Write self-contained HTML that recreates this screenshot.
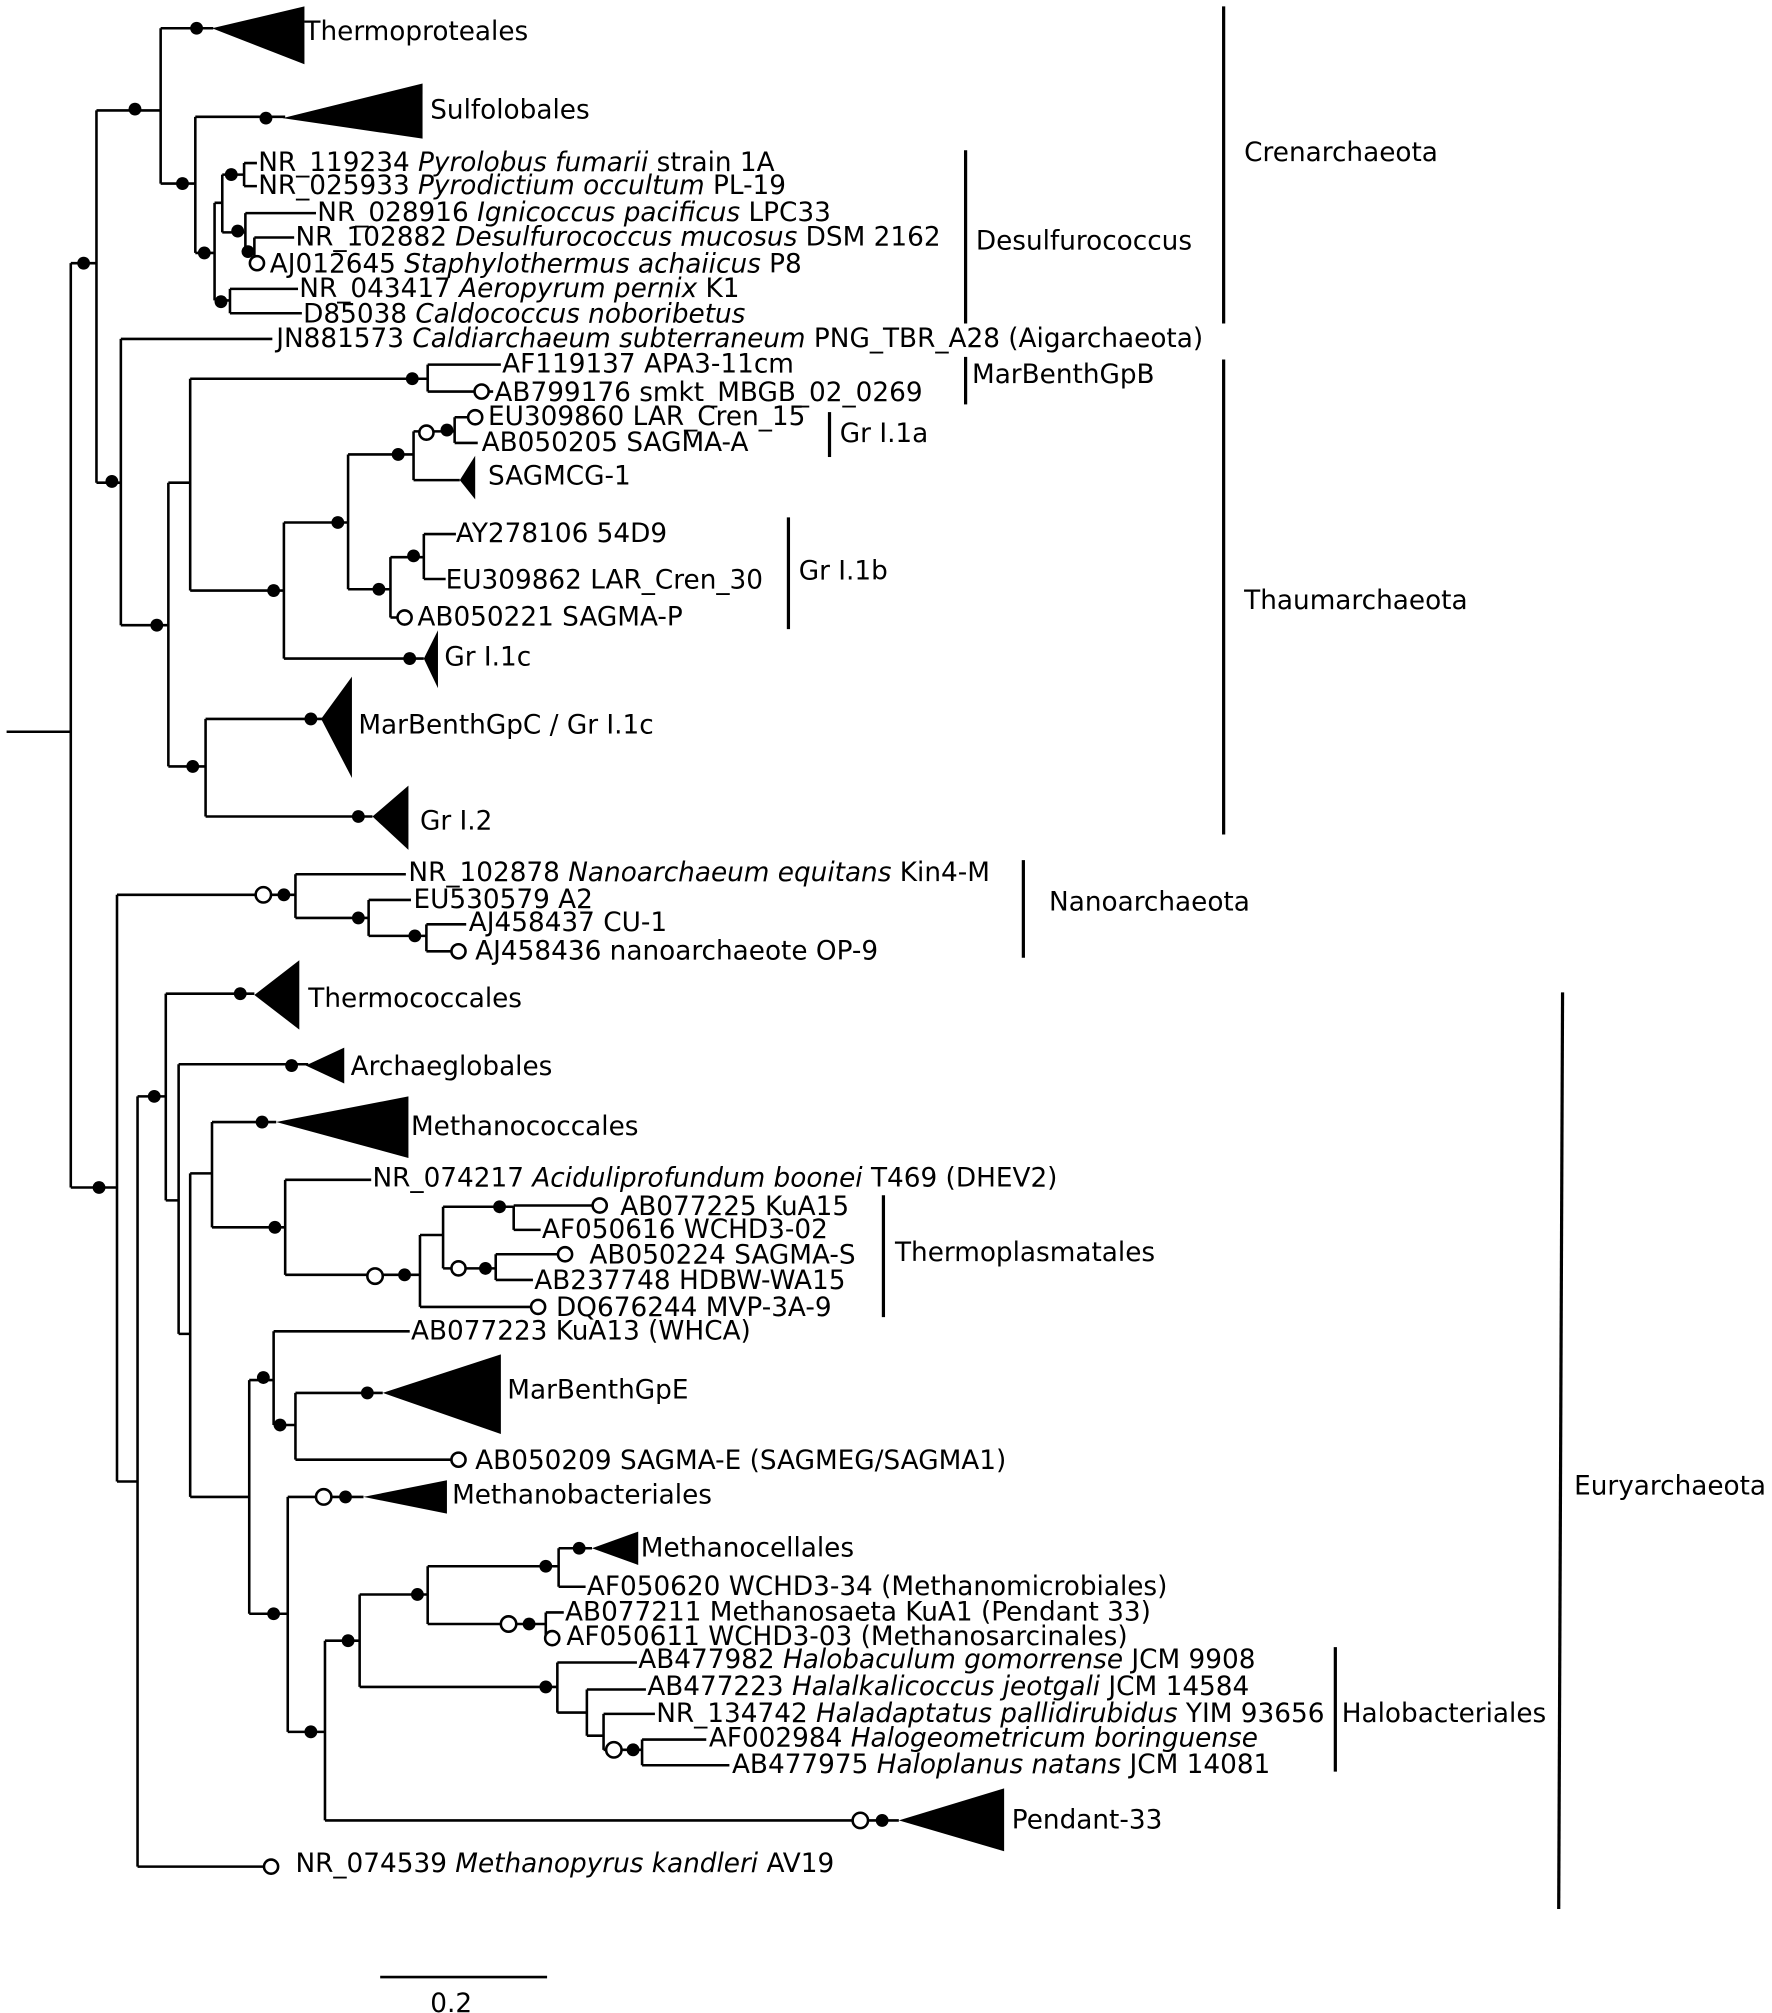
<!DOCTYPE html>
<html><head><meta charset="utf-8"><style>
html,body{margin:0;padding:0;background:#fff;}
svg{display:block;}
text{font-family:"DejaVu Sans","Liberation Sans",sans-serif;font-size:20.5px;fill:#000;dominant-baseline:central;}
.i{font-style:italic;}
</style></head><body>
<svg width="1772" height="2013" viewBox="0 0 1380 1568" xmlns="http://www.w3.org/2000/svg">
<g stroke="#000" stroke-width="2" fill="none">
<path d="M5 570H55M55 205V925"/>
<path d="M55 205H75M75 86V376"/>
<path d="M75 86H125M125 22V143"/>
<path d="M125 22H166"/>
<path d="M125 143H152M152 91V197"/>
<path d="M152 91H222"/>
<path d="M152 197H167M167 158V234"/>
<path d="M167 158H173M173 136V181"/>
<path d="M173 136H190M190 127V145M190 127H200M190 145H200"/>
<path d="M173 181H191M191 166V196M191 166H246M191 196H198M198 185V205M198 185H229M198 205H200"/>
<path d="M167 234H179M179 225V244M179 225H232M179 244H235"/>
<path d="M75 376H94M94 264V487M94 264H212"/>
<path d="M94 487H131M131 376V597"/>
<path d="M131 376H148M148 295V460"/>
<path d="M148 295H333M333 284V305M333 284H390M333 305H384"/>
<path d="M148 460H221M221 407V513"/>
<path d="M221 407H271M271 354V459"/>
<path d="M271 354H322M322 336V374"/>
<path d="M322 336H354M354 325V345M354 325H368M354 345H372"/>
<path d="M322 374H358"/>
<path d="M271 459H304M304 434V481"/>
<path d="M304 434H330M330 416V451M330 416H355M330 451H347"/>
<path d="M304 481H310"/>
<path d="M221 513H330"/>
<path d="M131 597H160M160 560V636M160 560H252M160 636H290"/>
<path d="M55 925H91M91 697V1154"/>
<path d="M91 697H199M211 697H230M230 681V715M230 681H316M230 715H287M287 701V729M287 701H320M287 729H332M332 720V741M332 720H363M332 741H351"/>
<path d="M91 1154H107M107 854V1454M107 1454H205"/>
<path d="M107 854H129M129 774V935M129 774H198"/>
<path d="M129 935H139M139 829V1039M139 829H240"/>
<path d="M139 1039H148M148 914V1166"/>
<path d="M148 914H165M165 874V956M165 874H215"/>
<path d="M165 956H222M222 919V993M222 919H289"/>
<path d="M222 993H286M298 993H327M327 962V1018M327 962H345M345 940V988"/>
<path d="M345 940H400M400 939V958M400 939H461M400 958H421"/>
<path d="M345 988H351M363 988H386M386 977V997M386 977H434M386 997H415"/>
<path d="M327 1018H413"/>
<path d="M148 1166H194M194 1075V1257"/>
<path d="M194 1075H213M213 1037V1110M213 1037H319"/>
<path d="M213 1110H230M230 1085V1137M230 1085H298M230 1137H351"/>
<path d="M194 1257H224M224 1166V1349"/>
<path d="M224 1166H246M258 1166H283"/>
<path d="M224 1349H253M253 1278V1418"/>
<path d="M253 1278H280M280 1242V1314"/>
<path d="M280 1242H333M333 1220V1265"/>
<path d="M333 1220H435M435 1206V1236M435 1206H461M435 1236H456"/>
<path d="M333 1265H390M402 1265H425M425 1256V1275M425 1256H439M425 1275H430"/>
<path d="M280 1314H434M434 1295V1334M434 1295H496M434 1334H457M457 1316V1352M457 1316H503M457 1352H470M470 1335V1363M470 1335H510M470 1363H472M484 1363H500M500 1355V1375M500 1355H550M500 1375H568"/>
<path d="M253 1418H664M676 1418H700"/>
<path d="M296 1540H426"/>
</g>
<g stroke="#000" stroke-width="2.5">
<line x1="953" y1="5" x2="953" y2="252"/>
<line x1="953" y1="280" x2="953" y2="650"/>
<line x1="752" y1="117" x2="752" y2="252"/>
<line x1="752" y1="278" x2="752" y2="315"/>
<line x1="646" y1="321" x2="646" y2="356"/>
<line x1="614" y1="403" x2="614" y2="490"/>
<line x1="797" y1="670" x2="797" y2="746"/>
<line x1="688" y1="931" x2="688" y2="1026"/>
<line x1="1040" y1="1283" x2="1040" y2="1380"/>
<line x1="1217" y1="773" x2="1214" y2="1487"/>
</g>
<g fill="#000">
<polygon points="165,22 237,5 237,50"/>
<polygon points="220,92 329,65 329,108"/>
<polygon points="358,374 370,355 370,389"/>
<polygon points="330,513 341,491 341,536"/>
<polygon points="250,560 274,527 274,606"/>
<polygon points="290,636 318,612 318,662"/>
<polygon points="198,775 233,748 233,802"/>
<polygon points="238,830 268,816 268,844"/>
<polygon points="215,874 318,854 318,902"/>
<polygon points="298,1085 390,1055 390,1117"/>
<polygon points="283,1166 348,1153 348,1179"/>
<polygon points="461,1206 497,1193 497,1219"/>
<polygon points="700,1418 782,1393 782,1442"/>
</g>
<g fill="#000">
<circle cx="65" cy="205" r="5"/><circle cx="105" cy="85" r="5"/><circle cx="153" cy="22" r="5"/>
<circle cx="142" cy="143" r="5"/><circle cx="207" cy="92" r="5"/><circle cx="159" cy="197" r="5"/>
<circle cx="180" cy="136" r="5"/><circle cx="185" cy="180" r="5"/><circle cx="193" cy="196" r="5"/>
<circle cx="172" cy="235" r="5"/><circle cx="87" cy="375" r="5"/><circle cx="122" cy="487" r="5"/>
<circle cx="321" cy="295" r="5"/><circle cx="213" cy="460" r="5"/><circle cx="263" cy="407" r="5"/>
<circle cx="310" cy="354" r="5"/><circle cx="348" cy="335" r="5"/><circle cx="295" cy="459" r="5"/>
<circle cx="322" cy="433" r="5"/><circle cx="319" cy="513" r="5"/><circle cx="150" cy="597" r="5"/>
<circle cx="242" cy="560" r="5"/><circle cx="279" cy="636" r="5"/>
<circle cx="221" cy="697" r="5"/><circle cx="279" cy="715" r="5"/><circle cx="323" cy="729" r="5"/>
<circle cx="77" cy="925" r="5"/><circle cx="120" cy="854" r="5"/><circle cx="187" cy="774" r="5"/>
<circle cx="227" cy="830" r="5"/><circle cx="204" cy="874" r="5"/><circle cx="214" cy="956" r="5"/>
<circle cx="315" cy="993" r="5"/><circle cx="389" cy="940" r="5"/><circle cx="378" cy="988" r="5"/>
<circle cx="205" cy="1073" r="5"/><circle cx="218" cy="1110" r="5"/><circle cx="286" cy="1085" r="5"/>
<circle cx="213" cy="1257" r="5"/><circle cx="269" cy="1166" r="5"/><circle cx="242" cy="1349" r="5"/>
<circle cx="271" cy="1278" r="5"/><circle cx="325" cy="1242" r="5"/><circle cx="425" cy="1220" r="5"/>
<circle cx="451" cy="1206" r="5"/><circle cx="412" cy="1265" r="5"/><circle cx="425" cy="1314" r="5"/>
<circle cx="493" cy="1363" r="5"/><circle cx="687" cy="1418" r="5"/>
</g>
<g fill="#fff" stroke="#000" stroke-width="2">
<circle cx="200" cy="205" r="5.5"/><circle cx="375" cy="305" r="5.5"/><circle cx="332" cy="337" r="5.5"/>
<circle cx="370" cy="325" r="5.5"/><circle cx="315" cy="481" r="5.5"/><circle cx="205" cy="697" r="6"/>
<circle cx="357" cy="741" r="5.5"/><circle cx="292" cy="994" r="6"/><circle cx="467" cy="939" r="5.5"/>
<circle cx="357" cy="988" r="5.5"/><circle cx="440" cy="977" r="5.5"/><circle cx="419" cy="1018" r="5.5"/>
<circle cx="357" cy="1137" r="5.5"/><circle cx="252" cy="1166" r="6"/><circle cx="396" cy="1265" r="6"/>
<circle cx="430" cy="1276" r="5.5"/><circle cx="478" cy="1363" r="6"/><circle cx="670" cy="1418" r="6"/>
<circle cx="211" cy="1454" r="5.5"/>
</g>
<text x="237" y="25">Thermoproteales</text>
<text x="335" y="86">Sulfolobales</text>
<text x="201" y="127">NR_119234 <tspan class="i">Pyrolobus fumarii</tspan> strain 1A</text>
<text x="201" y="145">NR_025933 <tspan class="i">Pyrodictium occultum</tspan> PL-19</text>
<text x="247" y="166">NR_028916 <tspan class="i">Ignicoccus pacificus</tspan> LPC33</text>
<text x="230" y="185">NR_102882 <tspan class="i">Desulfurococcus mucosus</tspan> DSM 2162</text>
<text x="210" y="206">AJ012645 <tspan class="i">Staphylothermus achaiicus</tspan> P8</text>
<text x="233" y="225">NR_043417 <tspan class="i">Aeropyrum pernix</tspan> K1</text>
<text x="236" y="245">D85038 <tspan class="i">Caldococcus noboribetus</tspan></text>
<text x="215" y="264">JN881573 <tspan class="i">Caldiarchaeum subterraneum</tspan> PNG_TBR_A28 (Aigarchaeota)</text>
<text x="391" y="284">AF119137 APA3-11cm</text>
<text x="385" y="306">AB799176 smkt_MBGB_02_0269</text>
<text x="380" y="325">EU309860 LAR_Cren_15</text>
<text x="375" y="345">AB050205 SAGMA-A</text>
<text x="380" y="371">SAGMCG-1</text>
<text x="355" y="416">AY278106 54D9</text>
<text x="347" y="452">EU309862 LAR_Cren_30</text>
<text x="325" y="481">AB050221 SAGMA-P</text>
<text x="346" y="512">Gr I.1c</text>
<text x="279" y="565">MarBenthGpC / Gr I.1c</text>
<text x="327" y="640">Gr I.2</text>
<text x="318" y="680">NR_102878 <tspan class="i">Nanoarchaeum equitans</tspan> Kin4-M</text>
<text x="322" y="701">EU530579 A2</text>
<text x="365" y="719">AJ458437 CU-1</text>
<text x="370" y="741">AJ458436 nanoarchaeote OP-9</text>
<text x="240" y="778">Thermococcales</text>
<text x="273" y="831">Archaeglobales</text>
<text x="320" y="878">Methanococcales</text>
<text x="290" y="918">NR_074217 <tspan class="i">Aciduliprofundum boonei</tspan> T469 (DHEV2)</text>
<text x="483" y="940">AB077225 KuA15</text>
<text x="422" y="958">AF050616 WCHD3-02</text>
<text x="459" y="978">AB050224 SAGMA-S</text>
<text x="416" y="998">AB237748 HDBW-WA15</text>
<text x="433" y="1019">DQ676244 MVP-3A-9</text>
<text x="320" y="1037">AB077223 KuA13 (WHCA)</text>
<text x="395" y="1083">MarBenthGpE</text>
<text x="370" y="1138">AB050209 SAGMA-E (SAGMEG/SAGMA1)</text>
<text x="352" y="1165">Methanobacteriales</text>
<text x="499" y="1206">Methanocellales</text>
<text x="457" y="1236">AF050620 WCHD3-34 (Methanomicrobiales)</text>
<text x="440" y="1256">AB077211 Methanosaeta KuA1 (Pendant 33)</text>
<text x="441" y="1275">AF050611 WCHD3-03 (Methanosarcinales)</text>
<text x="497" y="1293">AB477982 <tspan class="i">Halobaculum gomorrense</tspan> JCM 9908</text>
<text x="504" y="1314">AB477223 <tspan class="i">Halalkalicoccus jeotgali</tspan> JCM 14584</text>
<text x="511" y="1335">NR_134742 <tspan class="i">Haladaptatus pallidirubidus</tspan> YIM 93656</text>
<text x="552" y="1354">AF002984 <tspan class="i">Halogeometricum boringuense</tspan></text>
<text x="570" y="1375">AB477975 <tspan class="i">Haloplanus natans</tspan> JCM 14081</text>
<text x="788" y="1418">Pendant-33</text>
<text x="230" y="1452">NR_074539 <tspan class="i">Methanopyrus kandleri</tspan>  AV19</text>
<text x="969" y="119">Crenarchaeota</text>
<text x="760" y="188">Desulfurococcus</text>
<text x="757" y="292">MarBenthGpB</text>
<text x="654" y="338">Gr I.1a</text>
<text x="622" y="445">Gr I.1b</text>
<text x="969" y="468">Thaumarchaeota</text>
<text x="817" y="703">Nanoarchaeota</text>
<text x="697" y="976">Thermoplasmatales</text>
<text x="1045" y="1335">Halobacteriales</text>
<text x="1226" y="1158">Euryarchaeota</text>
<text x="335" y="1561">0.2</text>
</svg>
</body></html>
